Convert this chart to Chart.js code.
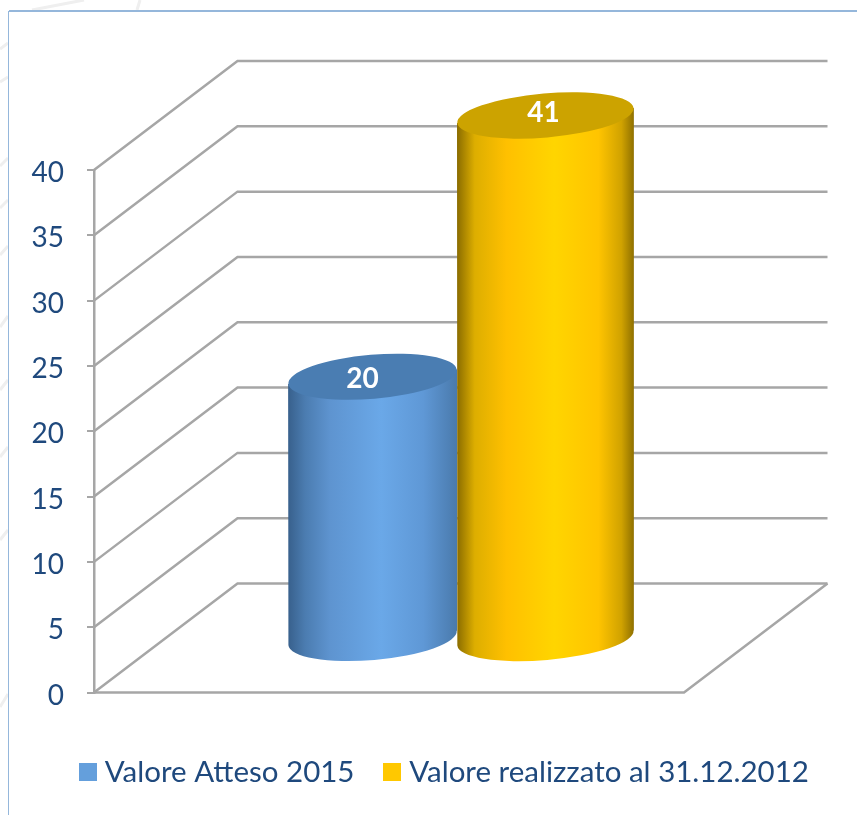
<!DOCTYPE html>
<html>
<head>
<meta charset="utf-8">
<style>
html,body{margin:0;padding:0;background:#fff;overflow:hidden}
#wrap{position:relative;width:857px;height:815px}
</style>
<script src="https://cdn.jsdelivr.net/npm/chart.js@4/dist/chart.umd.min.js"></script>
</head>
<body>
<div id="wrap"><canvas id="c" width="857" height="815"></canvas></div>
<script>
const categories = [''];
const seriesNames = ['Valore Atteso 2015', 'Valore realizzato al 31.12.2012'];
const valoreAtteso = [20];
const valoreRealizzato = [41];
const tickValues = [0, 5, 10, 15, 20, 25, 30, 35, 40];
const seriesColors = ['#649FDC', '#FFC800'];
const topColors = ['#4A7DB2', '#CCA300'];
const bodyStops = [
  [[0,'#38608C'],[0.1,'#4B7CB0'],[0.25,'#5E94D0'],[0.55,'#6AA8E8'],[0.8,'#5F98D6'],[1,'#4A7AAC']],
  [[0,'#8A6C00'],[0.1,'#DDAE00'],[0.28,'#FFC000'],[0.55,'#FFD500'],[0.8,'#FFC400'],[0.93,'#D0A200'],[1,'#8F7000']]
];
const widthFactor = [0.977, 1.023];
const labelShift = [[-10, 2], [-2, -3]];
const depth = { dx: 143.5, dy: 109, barDx: 70 };
const gridColor = '#A6A6A6';
const textColor = '#1F497D';
const fontName = 'Lato';

function swatch(color) {
  const cv = document.createElement('canvas');
  cv.width = 18; cv.height = 18;
  const g = cv.getContext('2d');
  g.fillStyle = color; g.fillRect(0, 0, 18, 18);
  return cv;
}

const backdrop = {
  id: 'backdrop',
  beforeDraw(chart) {
    const ctx = chart.ctx;
    ctx.save();
    ctx.strokeStyle = '#EFEFEF';
    ctx.lineWidth = 3;
    [[49,43],[82,77],[166,158],[208,200],[255,246],[327,316],[390,380],[457,447],[540,530],[707,694]].forEach(p => {
      ctx.beginPath(); ctx.moveTo(0, p[0]); ctx.lineTo(8, p[1]); ctx.stroke();
    });
    ctx.beginPath(); ctx.moveTo(32, 10); ctx.lineTo(84, 0); ctx.stroke();
    ctx.beginPath(); ctx.moveTo(137, 10); ctx.lineTo(140, 0); ctx.stroke();
    ctx.strokeStyle = '#95B7DB';
    ctx.lineWidth = 2;
    ctx.beginPath(); ctx.moveTo(857, 11); ctx.lineTo(9, 11); ctx.stroke();
    ctx.lineWidth = 1;
    ctx.beginPath(); ctx.moveTo(8.5, 11); ctx.lineTo(8.5, 815); ctx.stroke();
    ctx.restore();
  }
};

const walls = {
  id: 'walls',
  beforeDatasetsDraw(chart) {
    const ctx = chart.ctx, y = chart.scales.y, a = chart.chartArea;
    const backRight = a.right + depth.dx;
    ctx.save();
    ctx.strokeStyle = gridColor;
    ctx.lineWidth = 2.5;
    tickValues.forEach(v => {
      const py = y.getPixelForValue(v);
      ctx.beginPath();
      ctx.moveTo(a.left, py);
      ctx.lineTo(a.left + depth.dx, py - depth.dy);
      ctx.lineTo(backRight, py - depth.dy);
      ctx.stroke();
    });
    const p0 = y.getPixelForValue(0);
    ctx.beginPath();
    ctx.moveTo(backRight, p0 - depth.dy);
    ctx.lineTo(a.right, p0);
    ctx.lineTo(a.left, p0);
    ctx.stroke();
    ctx.restore();
  }
};

const cylinders = {
  id: 'cylinders',
  beforeDatasetsDraw(chart) {
    const ctx = chart.ctx, y = chart.scales.y;
    const tilt = -4.9 * Math.PI / 180, ry = 22;
    chart.data.datasets.forEach((ds, i) => {
      const bar = chart.getDatasetMeta(i).data[0];
      const value = ds.data[0];
      const rx = bar.width / 2 * widthFactor[i];
      const cx = bar.x + depth.barDx;
      const top = y.getPixelForValue(Math.min(value, y.max)) - depth.dy / 2;
      const bottom = y.getPixelForValue(0) - depth.dy / 2;
      const lift = rx * Math.sin(tilt);
      const grad = ctx.createLinearGradient(cx - rx, 0, cx + rx, 0);
      bodyStops[i].forEach(s => grad.addColorStop(s[0], s[1]));
      ctx.save();
      ctx.fillStyle = grad;
      ctx.beginPath();
      ctx.moveTo(cx - rx, top - lift);
      ctx.lineTo(cx + rx, top + lift);
      ctx.lineTo(cx + rx, bottom + lift);
      ctx.ellipse(cx, bottom, rx, ry, tilt, 0, Math.PI);
      ctx.closePath();
      ctx.fill();
      ctx.fillStyle = topColors[i];
      ctx.beginPath();
      ctx.ellipse(cx, top, rx, ry, tilt, 0, Math.PI * 2);
      ctx.fill();
      ctx.fillStyle = '#FFFFFF';
      ctx.font = 'bold 28px ' + fontName;
      ctx.textAlign = 'center';
      ctx.textBaseline = 'middle';
      ctx.fillText(String(value), cx + labelShift[i][0], top + labelShift[i][1]);
      ctx.restore();
    });
    return false;
  }
};

new Chart(document.getElementById('c'), {
  type: 'bar',
  data: {
    labels: categories,
    datasets: [
      { label: seriesNames[0], data: valoreAtteso, backgroundColor: seriesColors[0] },
      { label: seriesNames[1], data: valoreRealizzato, backgroundColor: seriesColors[1] }
    ]
  },
  options: {
    responsive: false,
    animation: false,
    events: [],
    datasets: { bar: { categoryPercentage: 0.586, barPercentage: 1 } },
    layout: { padding: { top: 170, left: 28, right: -10, bottom: 18 } },
    scales: {
      x: {
        grid: { display: false },
        border: { display: false },
        ticks: { display: false },
        afterFit(s) { s.height = 29; }
      },
      y: {
        min: 0,
        max: 40,
        afterFit(s) { s.width = 66; },
        afterBuildTicks(s) { s.ticks = tickValues.map(v => ({ value: v })); },
        border: { display: true, color: gridColor, width: 2.5 },
        grid: { drawOnChartArea: false, drawTicks: true, tickLength: 7, color: gridColor, lineWidth: 2 },
        ticks: { color: textColor, padding: 23, labelOffset: 3, font: { family: fontName, size: 28 } }
      },
      spare: {
        position: 'right',
        display: true,
        min: 0,
        max: 1,
        grid: { display: false },
        border: { display: false },
        ticks: { display: false },
        afterFit(s) { s.width = 183; }
      }
    },
    plugins: {
      title: { display: false },
      tooltip: { enabled: false },
      legend: {
        position: 'bottom',
        labels: {
          color: textColor,
          font: { family: fontName, size: 29.5 },
          padding: 36,
          usePointStyle: true,
          boxWidth: 4,
          generateLabels(chart) {
            const items = Chart.defaults.plugins.legend.labels.generateLabels(chart);
            items.forEach((it, i) => { it.pointStyle = swatch(seriesColors[i]); });
            return items;
          }
        }
      }
    }
  },
  plugins: [backdrop, walls, cylinders]
});
</script>
</body>
</html>
